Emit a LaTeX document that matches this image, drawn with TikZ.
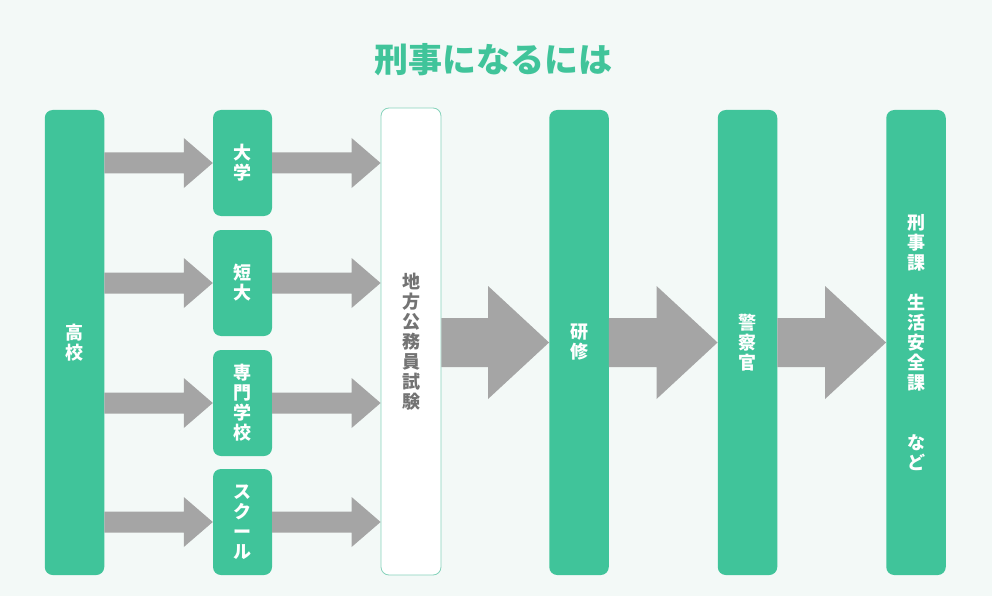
\documentclass[tikz,border=0pt]{standalone}
\usepackage{fontspec}
\newfontfamily\jp{Noto Sans CJK JP}
\usetikzlibrary{calc}
\definecolor{bgc}{HTML}{F3F9F7}
\definecolor{mint}{HTML}{40C49A}
\definecolor{agray}{HTML}{A5A5A5}
\definecolor{wborder}{HTML}{86D3BB}
\definecolor{wtext}{HTML}{737373}
\newcommand\blockarr[6]{%
  \fill[agray] let \p1=(#1.east), \p2=(#2.west), \p3=(#3.center) in
    (\x1,\y3+#4) -- (\x2-#6,\y3+#4) -- (\x2-#6,\y3+#5) -- (\x2,\y3)
    -- (\x2-#6,\y3-#5) -- (\x2-#6,\y3-#4) -- (\x1,\y3-#4) -- cycle;}
\begin{document}
\begin{tikzpicture}[x=1pt,y=-1pt,
  box/.style={rounded corners=8pt, inner sep=0pt, align=center,
    font=\jp\bfseries\fontsize{18}{20}\selectfont},
  gbox/.style={box, fill=mint, text=white},
  wbox/.style={box, fill=white, draw=wborder, line width=0.8pt, text=wtext},
  tall/.style={minimum width=59.5pt, minimum height=465pt},
  small/.style={minimum width=59pt, minimum height=106pt},
  title/.style={font=\jp\bfseries\fontsize{34}{36}\selectfont, text=mint}]
\fill[bgc] (0,0) rectangle (992,596);
\node[title] (t) at (493,60) {刑事になるには};
\node[gbox, tall] (hs) at (74.5,342.5) {高\\校};
\node[gbox, small] (d1) at (242.5,163) {大\\学};
\node[gbox, small] (d2) at (242.5,283) {短\\大};
\node[gbox, small] (d3) at (242.5,403) {専\\門\\学\\校};
\node[gbox, small] (d4) at (242.5,522) {ス\\ク\\ー\\ル};
\node[wbox, minimum width=60pt, minimum height=467pt] (ex) at (411,341.5) {地\\方\\公\\務\\員\\試\\験};
\node[gbox, tall] (tr) at (579,342.5) {研\\修};
\node[gbox, tall] (po) at (747.5,342.5) {警\\察\\官};
\node[gbox, tall] (dp) at (916,342.5) {刑\\事\\課\\~\\生\\活\\安\\全\\課\\~\\~\\な\\ど};
\foreach \d in {d1,d2,d3,d4}{
  \blockarr{hs}{\d}{\d}{10.5pt}{25pt}{29pt}
  \blockarr{\d}{ex}{\d}{10.5pt}{25pt}{29pt}
}
\blockarr{ex}{tr}{tr}{24.5pt}{56.5pt}{61pt}
\blockarr{tr}{po}{po}{24.5pt}{56.5pt}{61pt}
\blockarr{po}{dp}{dp}{24.5pt}{56.5pt}{61pt}
\end{tikzpicture}
\end{document}
